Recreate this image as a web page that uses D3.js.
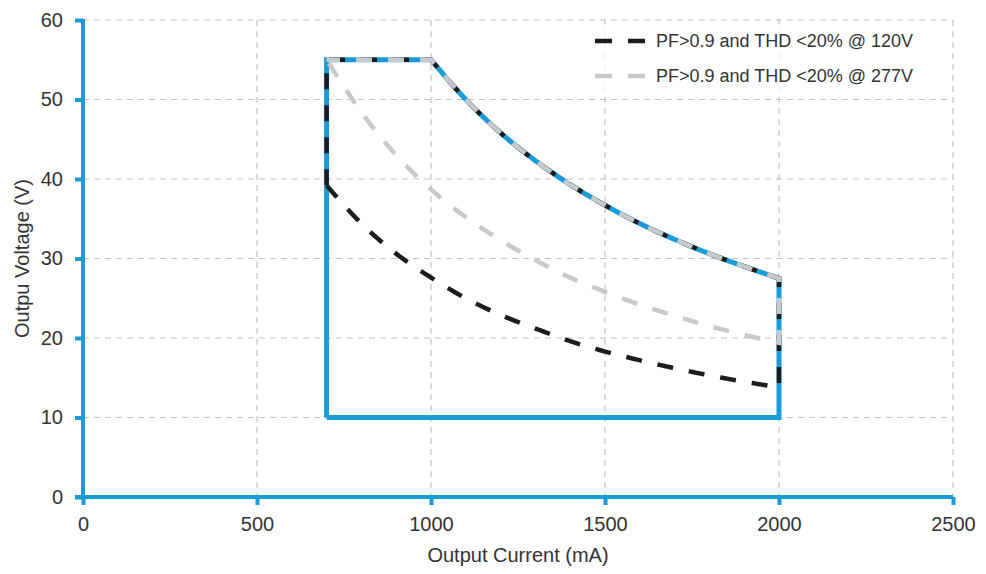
<!DOCTYPE html>
<html>
<head>
<meta charset="utf-8">
<script src="https://cdn.jsdelivr.net/npm/d3@7"></script>
<style>
  body { margin: 0; background: #fff; }
  text { font-family: "Liberation Sans", Arial, sans-serif; fill: #333; }
</style>
</head>
<body>
<svg id="chart" width="986" height="574"></svg>
<script>
// ---- data ----
const xTicks = [0, 500, 1000, 1500, 2000, 2500];
const yTicks = [0, 10, 20, 30, 40, 50, 60];

// operating region (blue outline): [current mA, voltage V]
const regionCurrent = [700, 700, 1000, 1100, 1200, 1300, 1400, 1500, 1600, 1700, 1800, 1900, 2000, 2000, 700];
const regionVoltage = [10, 55, 55, 50, 45.8, 42.3, 39.3, 36.7, 34.4, 32.4, 30.6, 29, 27.5, 10, 10];

// PF>0.9 and THD <20% @ 120V (black dashed)
const v120Current = [700, 700, 1000, 1100, 1200, 1300, 1400, 1500, 1600, 1700, 1800, 1900, 2000, 2000, 1900, 1800, 1700, 1600, 1500, 1400, 1300, 1200, 1100, 1000, 900, 800, 700];
const v120Voltage = [39.2, 55, 55, 50, 45.8, 42.3, 39.3, 36.7, 34.4, 32.4, 30.6, 29, 27.5, 13.8, 14.5, 15.3, 16.2, 17.2, 18.3, 19.6, 21.2, 22.9, 25.0, 27.6, 30.6, 34.4, 39.2];

// PF>0.9 and THD <20% @ 277V (grey dashed)
const v277Current = [700, 1000, 1100, 1200, 1300, 1400, 1500, 1600, 1700, 1800, 1900, 2000, 2000, 1900, 1800, 1700, 1600, 1500, 1400, 1300, 1200, 1100, 1000, 900, 800, 700];
const v277Voltage = [55, 55, 50, 45.8, 42.3, 39.3, 36.7, 34.4, 32.4, 30.6, 29, 27.5, 19.4, 20.4, 21.5, 22.8, 24.2, 25.8, 27.6, 29.8, 32.3, 35.2, 38.7, 43.0, 48.4, 55];

const legendLabels = ["PF>0.9 and THD <20% @ 120V", "PF>0.9 and THD <20% @ 277V"];

// ---- drawing ----
const BLUE = "#1b9bd7", BLACK = "#1c1c1c", GREY = "#c9c9c9";
const svg = d3.select("#chart");
const x = d3.scaleLinear().domain([0, 2500]).range([83, 953]);
const y = d3.scaleLinear().domain([0, 60]).range([497, 20]);

// grid
const grid = svg.append("g").attr("stroke", "#c4c4c4").attr("stroke-width", 1.2).attr("stroke-dasharray", "6,5");
grid.selectAll("line.v").data(xTicks.filter(d => d > 0)).join("line")
  .attr("x1", d => x(d)).attr("x2", d => x(d)).attr("y1", y(60)).attr("y2", y(0));
grid.selectAll("line.h").data(yTicks.filter(d => d > 0)).join("line")
  .attr("x1", x(0)).attr("x2", x(2500)).attr("y1", d => y(d)).attr("y2", d => y(d));

// legend background
svg.append("rect").attr("x", 584).attr("y", 24).attr("width", 366).attr("height", 72)
  .attr("fill", "#fff").attr("opacity", 0.75);

// axes
const fmt = d3.format("d");
const xAxis = svg.append("g").attr("transform", `translate(0,${y(0)})`)
  .call(d3.axisBottom(x).tickValues(xTicks).tickFormat(fmt).tickSize(8).tickSizeOuter(0).tickPadding(12));
const yAxis = svg.append("g").attr("transform", `translate(${x(0)},0)`)
  .call(d3.axisLeft(y).tickValues(yTicks).tickFormat(fmt).tickSize(8).tickSizeOuter(0).tickPadding(12));
[xAxis, yAxis].forEach(a => {
  a.select(".domain").attr("stroke", BLUE).attr("stroke-width", 4);
  a.selectAll(".tick line").attr("stroke", BLUE).attr("stroke-width", 4);
  a.selectAll(".tick text").style("font-size", "20px").attr("fill", "#333");
});
xAxis.select(".domain").attr("d", `M${x(0) - 8},0H${x(2500)}`);
yAxis.select(".domain").attr("d", `M0,${y(60) - 1}V${y(0) + 2}`);

function pathOf(cs, vs) { return cs.map((c, i) => [c, vs[i]]); }

// build a path: straight for vertical / flat segments, smooth (monotone) for curved runs
function buildPath(pts) {
  const p = d3.path();
  p.moveTo(x(pts[0][0]), y(pts[0][1]));
  const gen = d3.line().x(d => x(d[0])).y(d => y(d[1])).curve(d3.curveMonotoneX);
  let i = 1;
  while (i < pts.length) {
    const prev = pts[i - 1], cur = pts[i];
    if (cur[0] === prev[0] || cur[1] === prev[1]) {
      p.lineTo(x(cur[0]), y(cur[1]));
      i++;
    } else {
      const run = [prev];
      while (i < pts.length && pts[i][0] !== pts[i - 1][0] && pts[i][1] !== pts[i - 1][1]) {
        run.push(pts[i]); i++;
      }
      const asc = run[0][0] < run[run.length - 1][0];
      const ordered = asc ? run : run.slice().reverse();
      const node = document.createElementNS("http://www.w3.org/2000/svg", "path");
      node.setAttribute("d", gen(ordered));
      svg.node().appendChild(node);
      const L = node.getTotalLength();
      const samples = [];
      for (let t = 0; t <= L; t += 2) samples.push(node.getPointAtLength(t));
      const e = ordered[ordered.length - 1];
      samples.push({x: x(e[0]), y: y(e[1])});
      node.remove();
      if (!asc) samples.reverse();
      samples.forEach(q => p.lineTo(q.x, q.y));
    }
  }
  return p.toString();
}

// region
svg.append("path").attr("d", buildPath(pathOf(regionCurrent, regionVoltage)))
  .attr("fill", "none").attr("stroke", BLUE).attr("stroke-width", 5).attr("stroke-linejoin", "miter");

// 120V black dashed (drawn first)
svg.append("path").attr("d", buildPath(pathOf(v120Current, v120Voltage)))
  .attr("fill", "none").attr("stroke", BLACK).attr("stroke-width", 4.5)
  .attr("stroke-dasharray", "16,16").attr("stroke-dashoffset", 0);

// 277V grey dashed (on top, shifted so black peeks out along the shared boundary)
const shared = y(55) - y(39.2) < 0 ? y(39.2) - y(55) : y(55) - y(39.2);
svg.append("path").attr("d", buildPath(pathOf(v277Current, v277Voltage)))
  .attr("fill", "none").attr("stroke", GREY).attr("stroke-width", 4.5)
  .attr("stroke-dasharray", "16,16").attr("stroke-dashoffset", (Math.abs(y(39.2) - y(55)) + 5) % 32);

// legend
const leg = svg.append("g");
[[BLACK, legendLabels[0], 41], [GREY, legendLabels[1], 76]].forEach(([c, t, yy]) => {
  leg.append("line").attr("x1", 595).attr("x2", 646).attr("y1", yy).attr("y2", yy)
    .attr("stroke", c).attr("stroke-width", 4.5).attr("stroke-dasharray", "17,16");
  leg.append("text").attr("x", 656).attr("y", yy).attr("dy", "0.35em")
    .style("font-size", "18px").text(t);
});

// axis titles
svg.append("text").attr("x", x(1250)).attr("y", 562).attr("text-anchor", "middle")
  .style("font-size", "20px").text("Output Current (mA)");
svg.append("text").attr("transform", `translate(29,${y(30)}) rotate(-90)`).attr("text-anchor", "middle")
  .style("font-size", "20px").text("Outpu Voltage (V)");
</script>
</body>
</html>
